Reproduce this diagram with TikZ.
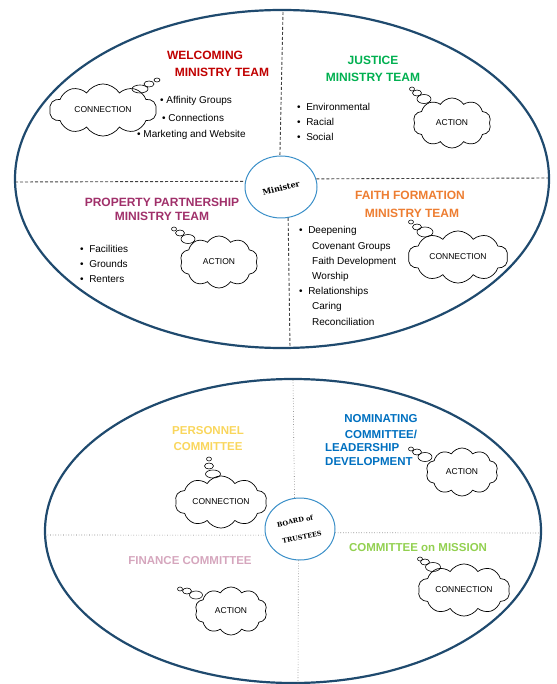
\documentclass[tikz,border=0pt]{standalone}
\usepackage{fontspec}
\setmainfont{Liberation Sans}
\newfontfamily\hubfont{DejaVu Serif}
\usetikzlibrary{shapes.geometric,shapes.symbols}
\definecolor{navy}{HTML}{1F4A6E}
\definecolor{hubblue}{HTML}{3A8FC8}
\definecolor{cwelc}{HTML}{C00000}
\definecolor{cjust}{HTML}{00B050}
\definecolor{cprop}{HTML}{A0306A}
\definecolor{cfaith}{HTML}{ED7D31}
\definecolor{cpers}{HTML}{F9D65C}
\definecolor{cnom}{HTML}{0070C0}
\definecolor{cfin}{HTML}{D5A6BD}
\definecolor{cmis}{HTML}{92D050}
\begin{document}
\begin{tikzpicture}[x=1pt,y=-1pt,
  headA/.style={font=\fontsize{12}{14}\selectfont\bfseries, inner sep=0},
  headB/.style={font=\fontsize{11.5}{14}\selectfont\bfseries, inner sep=0},
  item/.style={font=\fontsize{10}{15.2}\selectfont, anchor=west, inner sep=0, align=left},
  thought/.style={cloud, draw, cloud puffs=10, cloud puff arc=115, aspect=2, inner sep=0,
     font=\fontsize{8.5}{9}\selectfont, line width=0.7pt},
  bubble/.style={draw, line width=0.6pt},
  outer/.style={draw=navy, line width=2.2pt},
  hub/.style={ellipse, draw=hubblue, line width=1pt, inner sep=0},
  hubtext/.style={font=\hubfont\bfseries\fontsize{7.5}{9}\selectfont, rotate=15, inner sep=0},
  divT/.style={dash pattern=on 3pt off 2pt, line width=0.9pt, draw=black!75},
  divB/.style={dotted, line width=0.6pt, draw=black!60}]
\useasboundingbox (0,0) rectangle (556,684);

% ---------------- TOP ----------------
\draw[outer] (282,179) ellipse [x radius=267pt, y radius=169pt];
\node[hub, minimum width=72pt, minimum height=62pt] (min) at (281,187) {};
\node[hubtext, font=\hubfont\bfseries\fontsize{8}{9}\selectfont] (mint) at (281,188) {Minister};
\coordinate (tTop) at (283,12);
\coordinate (tBot) at (290,348);
\coordinate (tL) at (15,182);
\coordinate (tR) at (548,178);
\draw[divT] (tTop) -- (min.92);
\draw[divT] (min.-77) -- (tBot);
\draw[divT] (tL) -- (min.171);
\draw[divT] (min.13) -- (tR);

% Welcoming
\node[headA, text=cwelc] (w1) at (205,55) {WELCOMING};
\node[headA, text=cwelc] (w2) at (222,72) {MINISTRY TEAM};
\node[thought, minimum width=107pt, minimum height=46pt] (wc) at (103,110) {CONNECTION};
\draw[bubble] (140,89) ellipse [x radius=8pt, y radius=4pt];
\draw[bubble] (149,84) ellipse [x radius=5pt, y radius=3pt];
\draw[bubble] (157,80) ellipse [x radius=3pt, y radius=2pt];
\node[item] (wi1) at (160,101) {\textbullet\ Affinity Groups};
\node[item] (wi2) at (162,118) {\textbullet\ Connections};
\node[item] (wi3) at (137,135) {\textbullet\ Marketing and Website};

% Justice
\node[headA, text=cjust] (j1) at (373,60) {JUSTICE};
\node[headA, text=cjust] (j2) at (373,77) {MINISTRY TEAM};
\node[item] (ji) at (297,122) {\textbullet\ \ Environmental\\\textbullet\ \ Racial\\\textbullet\ \ Social};
\node[thought, minimum width=78pt, minimum height=50pt] (jc) at (452,123) {ACTION};
\draw[bubble] (424,99) ellipse [x radius=7pt, y radius=4.5pt];
\draw[bubble] (417,93) ellipse [x radius=4.5pt, y radius=3pt];
\draw[bubble] (412,89) ellipse [x radius=2.5pt, y radius=2pt];

% Property
\node[headA, text=cprop] (p1) at (162,202) {PROPERTY PARTNERSHIP};
\node[headA, text=cprop] (p2) at (162,216) {MINISTRY TEAM};
\node[item] (pi) at (80,264) {\textbullet\ \ Facilities\\\textbullet\ \ Grounds\\\textbullet\ \ Renters};
\node[thought, minimum width=78pt, minimum height=52pt] (pc) at (219,262) {ACTION};
\draw[bubble] (188,239) ellipse [x radius=7pt, y radius=4.5pt];
\draw[bubble] (180,233) ellipse [x radius=4.5pt, y radius=3pt];
\draw[bubble] (174,229) ellipse [x radius=2.5pt, y radius=2pt];

% Faith formation
\node[headA, text=cfaith] (f1) at (410,195) {FAITH FORMATION};
\node[headA, text=cfaith] (f2) at (412,213) {MINISTRY TEAM};
\node[item] (fi) at (299,276) {\textbullet\ \ Deepening\\
  \hspace*{13pt}Covenant Groups\\
  \hspace*{13pt}Faith Development\\
  \hspace*{13pt}Worship\\
  \textbullet\ \ Relationships\\
  \hspace*{13pt}Caring\\
  \hspace*{13pt}Reconciliation};
\node[thought, minimum width=100pt, minimum height=50pt] (fc) at (458,257) {CONNECTION};
\draw[bubble] (425,232) ellipse [x radius=8pt, y radius=5pt];
\draw[bubble] (417,227) ellipse [x radius=4.5pt, y radius=3pt];
\draw[bubble] (411,222) ellipse [x radius=2.5pt, y radius=2pt];

% ---------------- BOTTOM ----------------
\draw[outer] (293,531) ellipse [x radius=248pt, y radius=152pt];
\node[hub, minimum width=70pt, minimum height=62pt] (brd) at (300,529) {};
\node[hubtext, rotate=-3, font=\hubfont\bfseries\fontsize{6.5}{8}\selectfont] (brdt1) at (295,521) {BOARD of};
\node[hubtext, rotate=-3, font=\hubfont\bfseries\fontsize{6.5}{8}\selectfont] (brdt2) at (302,537) {TRUSTEES};
\coordinate (bTop) at (293,380);
\coordinate (bBot) at (298,684);
\coordinate (bL) at (45,535);
\coordinate (bR) at (540,533);
\draw[divB] (bTop) -- (brd.100);
\draw[divB] (brd.-93) -- (bBot);
\draw[divB] (bL) -- (brd.190);
\draw[divB] (brd.-6) -- (bR);

% Personnel
\node[headB, text=cpers] (pe1) at (208,431) {PERSONNEL};
\node[headB, text=cpers] (pe2) at (208,447) {COMMITTEE};
\node[thought, minimum width=92pt, minimum height=48pt] (pec) at (221,502) {CONNECTION};
\draw[bubble] (213,474) ellipse [x radius=7.5pt, y radius=4pt];
\draw[bubble] (209,466) ellipse [x radius=4.5pt, y radius=3pt];
\draw[bubble] (209,459) ellipse [x radius=2.5pt, y radius=2pt];

% Nominating
\node[headB, text=cnom] (n1) at (381,419) {NOMINATING};
\node[headB, text=cnom] (n2) at (381,434) {COMMITTEE/};
\node[headB, text=cnom, anchor=west] (n3) at (325,448) {LEADERSHIP};
\node[headB, text=cnom, anchor=west] (n4) at (325,462) {DEVELOPMENT};
\node[thought, minimum width=72pt, minimum height=48pt] (nc) at (462,472) {ACTION};
\draw[bubble] (425,457) ellipse [x radius=7pt, y radius=4.5pt];
\draw[bubble] (417,452) ellipse [x radius=4.5pt, y radius=3pt];
\draw[bubble] (411,449) ellipse [x radius=2.5pt, y radius=2pt];

% Finance
\node[headB, text=cfin] (fn1) at (190,561) {FINANCE COMMITTEE};
\node[thought, minimum width=72pt, minimum height=48pt] (fnc) at (231,611) {ACTION};
\draw[bubble] (196,595) ellipse [x radius=6.5pt, y radius=4pt];
\draw[bubble] (187,591) ellipse [x radius=4.5pt, y radius=3pt];
\draw[bubble] (180,589) ellipse [x radius=2.5pt, y radius=2pt];

% Mission
\node[headB, text=cmis] (m1) at (418,548) {COMMITTEE on MISSION};
\node[thought, minimum width=92pt, minimum height=46pt] (mc) at (464,590) {CONNECTION};
\draw[bubble] (433,567) ellipse [x radius=7.5pt, y radius=4.5pt];
\draw[bubble] (425,562) ellipse [x radius=4.5pt, y radius=3pt];
\draw[bubble] (420,559) ellipse [x radius=2.5pt, y radius=2pt];
\end{tikzpicture}
\end{document}
